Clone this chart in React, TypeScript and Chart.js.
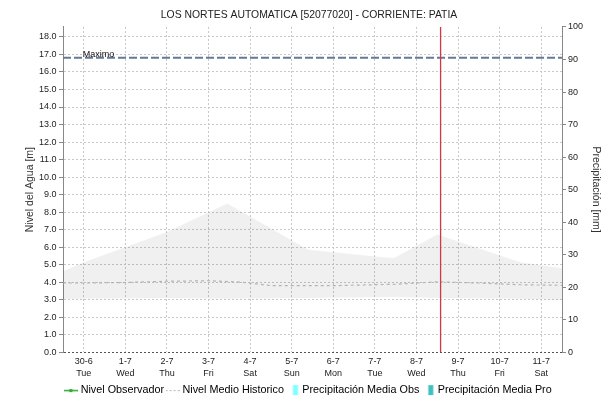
import React, { useEffect, useRef } from 'react';
import { Chart, registerables } from 'chart.js';

Chart.register(...registerables);

const FONT = '"Liberation Sans", Arial, sans-serif';

const TITLE = 'LOS NORTES AUTOMATICA [52077020] - CORRIENTE: PATIA';
const LEFT_TITLE = 'Nivel del Agua [m]';
const RIGHT_TITLE = 'Precipitación [mm]';

// x axis: one tick per day (0 = 30-6)
const dateLabels = ['30-6', '1-7', '2-7', '3-7', '4-7', '5-7', '6-7', '7-7', '8-7', '9-7', '10-7', '11-7'];
const weekdayLabels = ['Tue', 'Wed', 'Thu', 'Fri', 'Sat', 'Sun', 'Mon', 'Tue', 'Wed', 'Thu', 'Fri', 'Sat'];
const levelTicks = [0, 1, 2, 3, 4, 5, 6, 7, 8, 9, 10, 11, 12, 13, 14, 15, 16, 17, 18];
const precipTicks = [0, 10, 20, 30, 40, 50, 60, 70, 80, 90, 100];

// historic range band (grey area)
const bandDays = [-0.5, 0, 2.0, 3.45, 5.4, 7.45, 8.5, 10.5, 11.5];
const bandUpper = [4.62, 5.14, 6.86, 8.49, 5.85, 5.37, 6.72, 5.14, 4.8];
const bandLower = [3.05, 3.05, 3.1, 3.05, 3.1, 3.15, 3.1, 3.05, 3.0];

// Nivel Medio Historico
const medianDays = [-0.5, 0, 1, 2, 3, 3.8, 4.5, 6, 7.5, 8.5, 9.5, 10.5, 11.5];
const medianLevel = [3.95, 3.95, 3.98, 4.05, 4.08, 4.0, 3.8, 3.8, 3.88, 4.02, 3.95, 3.85, 3.82];

// series without data in the picture
const observedDays: number[] = [];
const observedLevel: number[] = [];
const precipObsDays: number[] = [];
const precipObs: number[] = [];
const precipProDays: number[] = [];
const precipPro: number[] = [];

const MAX_LEVEL = 16.82;
const NOW_DAY = 8.58;
const X_MIN = -0.5;
const X_MAX = 11.5;
const Y_MAX = 18.57;

const legendNames = ['Nivel Observador', 'Nivel Medio Historico', 'Precipitación Media Obs', 'Precipitación Media Pro'];

const zip = (xs: number[], ys: number[]) => xs.map((x, i) => ({ x, y: ys[i] }));

function makeIcon(draw: (g: CanvasRenderingContext2D) => void) {
  const c = document.createElement('canvas');
  c.width = 14;
  c.height = 12;
  const g = c.getContext('2d')!;
  draw(g);
  return c;
}

const maximoLabel = {
  id: 'maximoLabel',
  afterDatasetsDraw(chart: any) {
    const { ctx, scales } = chart;
    const x = scales.x;
    const y = scales.y;
    ctx.save();
    ctx.font = `9px ${FONT}`;
    ctx.fillStyle = '#111';
    ctx.textAlign = 'left';
    ctx.textBaseline = 'alphabetic';
    ctx.fillText('Maximo', x.getPixelForValue(0) - 1, y.getPixelForValue(MAX_LEVEL) - 0.5);
    ctx.restore();
  },
};

export default function App() {
  const ref = useRef<HTMLCanvasElement>(null);

  useEffect(() => {
    const canvas = ref.current!;
    const icons = [
      makeIcon((g) => {
        g.strokeStyle = '#2fa82f';
        g.lineWidth = 1.5;
        g.beginPath();
        g.moveTo(0, 6.5);
        g.lineTo(14, 6.5);
        g.stroke();
        g.fillStyle = '#2fa82f';
        g.fillRect(5.5, 5, 3, 3);
      }),
      makeIcon((g) => {
        g.strokeStyle = '#b8b8b8';
        g.lineWidth = 1;
        g.setLineDash([2, 2]);
        g.beginPath();
        g.moveTo(0, 6.5);
        g.lineTo(14, 6.5);
        g.stroke();
      }),
      makeIcon((g) => {
        g.fillStyle = '#80ffff';
        g.fillRect(7.5, 1, 5, 10);
      }),
      makeIcon((g) => {
        g.fillStyle = '#40c0c0';
        g.fillRect(7.5, 1, 5, 10);
      }),
    ];
    const legendColors = ['#2fa82f', '#b8b8b8', '#80ffff', '#40c0c0'];

    const tickFont = { family: FONT, size: 9, lineHeight: 1.33 };
    const axisTitleFont = { family: FONT, size: 10.5 };

    const chart = new Chart(canvas, {
      type: 'line',
      data: {
        datasets: [
          {
            label: 'Ahora',
            data: [{ x: NOW_DAY, y: 0 }, { x: NOW_DAY, y: Y_MAX }],
            borderColor: '#cc3a44',
            borderWidth: 1.3,
            pointRadius: 0,
            order: 0,
          },
          {
            label: legendNames[0],
            data: zip(observedDays, observedLevel),
            borderColor: '#2fa82f',
            backgroundColor: '#2fa82f',
            pointStyle: 'rect',
            pointRadius: 2,
            order: 1,
          },
          {
            label: 'Maximo',
            data: [{ x: X_MIN, y: MAX_LEVEL }, { x: X_MAX, y: MAX_LEVEL }],
            borderColor: '#66789a',
            borderWidth: 2,
            borderDash: [8, 3],
            pointRadius: 0,
            order: 2,
          },
          {
            label: legendNames[1],
            data: zip(medianDays, medianLevel),
            borderColor: '#b4b4b4',
            borderWidth: 1.2,
            borderDash: [3, 3],
            pointRadius: 0,
            order: 3,
          },
          {
            type: 'bar',
            label: legendNames[2],
            yAxisID: 'y1',
            data: zip(precipObsDays, precipObs),
            backgroundColor: '#80ffff',
            order: 4,
          } as any,
          {
            type: 'bar',
            label: legendNames[3],
            yAxisID: 'y1',
            data: zip(precipProDays, precipPro),
            backgroundColor: '#40c0c0',
            order: 5,
          } as any,
          {
            label: 'Rango superior',
            data: zip(bandDays, bandUpper),
            fill: '+1',
            backgroundColor: 'rgba(0,0,0,0.06)',
            borderColor: 'rgba(0,0,0,0)',
            borderWidth: 0,
            pointRadius: 0,
            order: 6,
          },
          {
            label: 'Rango inferior',
            data: zip(bandDays, bandLower),
            fill: false,
            borderColor: 'rgba(0,0,0,0)',
            borderWidth: 0,
            pointRadius: 0,
            order: 7,
          },
        ],
      },
      options: {
        responsive: false,
        animation: false,
        devicePixelRatio: 1,
        layout: { padding: { left: 5, right: 0, top: 0, bottom: 1.5 } },
        scales: {
          x: {
            type: 'linear',
            min: X_MIN,
            max: X_MAX,
            offset: false,
            afterBuildTicks: (s: any) => {
              s.ticks = dateLabels.map((_, i) => ({ value: i }));
            },
            ticks: {
              autoSkip: false,
              maxRotation: 0,
              padding: 3,
              font: tickFont,
              color: '#222',
              callback: (_v: any, i: number) => [dateLabels[i], weekdayLabels[i]],
            },
            grid: { color: '#c8c8c8', drawTicks: false, offset: false },
            border: { display: false, dash: [2, 2] },
            afterFit: (s: any) => {
              s.height = 28.5;
            },
          },
          y: {
            type: 'linear',
            position: 'left',
            min: 0,
            max: Y_MAX,
            afterBuildTicks: (s: any) => {
              s.ticks = levelTicks.map((v) => ({ value: v }));
            },
            ticks: {
              font: tickFont,
              color: '#222',
              padding: 2.5,
              callback: (v: any) => Number(v).toFixed(1),
            },
            grid: {
              color: (c: any) => (c.tick && c.tick.value === 0 ? '#555' : '#c8c8c8'),
              tickColor: '#888',
              tickLength: 4,
              tickBorderDash: [],
            },
            border: { display: true, color: '#888', dash: [2, 2] },
            title: { display: true, text: LEFT_TITLE, font: axisTitleFont, color: '#333', padding: { top: 19, bottom: 0 } },
            afterFit: (s: any) => {
              s.width = 58;
            },
          },
          y1: {
            type: 'linear',
            position: 'right',
            min: 0,
            max: 100,
            afterBuildTicks: (s: any) => {
              s.ticks = precipTicks.map((v) => ({ value: v }));
            },
            ticks: { font: tickFont, color: '#222', padding: 2 },
            grid: { drawOnChartArea: false, tickColor: '#888', tickLength: 4 },
            border: { display: true, color: '#888' },
            title: { display: true, text: RIGHT_TITLE, font: axisTitleFont, color: '#333', padding: { top: 10.7, bottom: 0 } },
            afterFit: (s: any) => {
              s.width = 51;
            },
          },
        },
        plugins: {
          title: {
            display: true,
            text: TITLE,
            font: { family: FONT, size: 10.4, weight: 'normal' },
            color: '#222',
            padding: { top: 8.5, bottom: 6 },
          },
          legend: {
            display: true,
            position: 'bottom',
            labels: {
              usePointStyle: true,
              pointStyleWidth: 9,
              padding: 4,
              font: { family: FONT, size: 10.8 },
              color: '#222',
              generateLabels: () =>
                legendNames.map((text, i) => ({
                  text,
                  pointStyle: icons[i],
                  fillStyle: legendColors[i],
                  strokeStyle: legendColors[i],
                  lineWidth: 0,
                  hidden: false,
                  datasetIndex: i,
                })) as any,
            },
          },
          tooltip: { enabled: false },
        },
      } as any,
      plugins: [maximoLabel],
    });
    return () => chart.destroy();
  }, []);

  return (
    <div style={{ position: 'fixed', left: 0, top: 0, width: 613, height: 407, background: '#fff' }}>
      <canvas ref={ref} width={613} height={407} style={{ display: 'block', width: 613, height: 407 }} />
    </div>
  );
}
